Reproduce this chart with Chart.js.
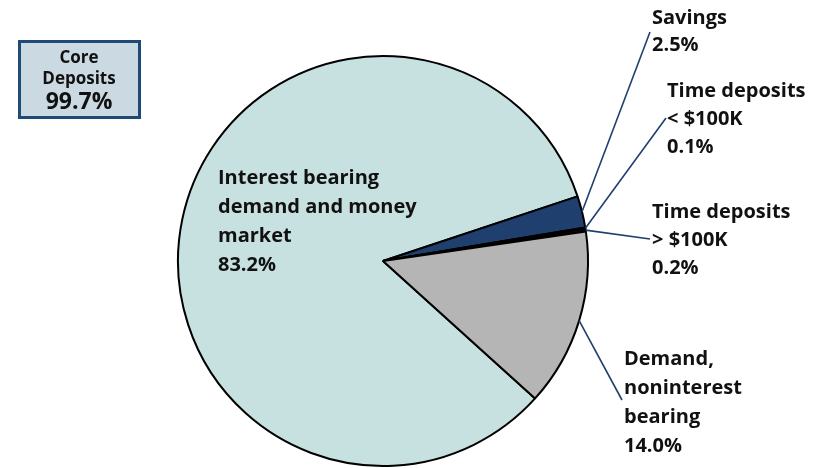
<!DOCTYPE html>
<html>
<head>
<meta charset="utf-8">
<script src="https://cdn.jsdelivr.net/npm/chart.js@4/dist/chart.umd.min.js"></script>
<style>
  html, body { margin: 0; padding: 0; background: #fff; }
  #wrap { width: 819px; height: 468px; position: relative; }
</style>
</head>
<body>
<div id="wrap"><canvas id="depositChart" width="819" height="468"></canvas></div>
<script>
const categories = [
  'Interest bearing demand and money market',
  'Savings',
  'Time deposits < $100K',
  'Time deposits > $100K',
  'Demand, noninterest bearing'
];
const shares = [83.2, 2.5, 0.1, 0.2, 14.0];
const sliceColors = ['#c7e0e0', '#1f3f6e', '#1a2a44', '#111111', '#b5b5b5'];
const labelLines = [
  ['Interest bearing', 'demand and money', 'market'],
  ['Savings'],
  ['Time deposits', '< $100K'],
  ['Time deposits', '> $100K'],
  ['Demand,', 'noninterest', 'bearing']
];
const coreTitle = ['Core', 'Deposits'];
const coreShare = 99.7;

// where each label block sits, and where its leader line ends (null = no line)
const labelSpots = [
  { x: 218, y: 178, lh: 29, line: null },
  { x: 652, y: 18, lh: 27, line: { x: 650, y: 32 } },
  { x: 667, y: 91, lh: 28, line: { x: 666, y: 118 } },
  { x: 652, y: 212, lh: 28, line: { x: 650, y: 239 } },
  { x: 624, y: 359, lh: 29, line: { x: 622, y: 400 } }
];

const FONT = '"Open Sans", Lato, sans-serif';

const calloutPlugin = {
  id: 'callouts',
  afterDatasetsDraw(chart) {
    const ctx = chart.ctx;
    const arcs = chart.getDatasetMeta(0).data;
    ctx.save();

    // leader lines from the middle of each slice's rim
    ctx.strokeStyle = '#1f3f6e';
    ctx.lineWidth = 1.6;
    arcs.forEach((arc, i) => {
      const spot = labelSpots[i];
      if (!spot.line) return;
      const mid = (arc.startAngle + arc.endAngle) / 2;
      const sx = arc.x + Math.cos(mid) * arc.outerRadius;
      const sy = arc.y + Math.sin(mid) * arc.outerRadius;
      ctx.beginPath();
      ctx.moveTo(sx, sy);
      ctx.lineTo(spot.line.x, spot.line.y);
      ctx.stroke();
    });

    // label text: name lines then the share
    ctx.fillStyle = '#111';
    ctx.font = 'bold 20px ' + FONT;
    ctx.textAlign = 'left';
    ctx.textBaseline = 'middle';
    labelSpots.forEach((spot, i) => {
      const lines = labelLines[i].concat([shares[i].toFixed(1) + '%']);
      lines.forEach((t, k) => ctx.fillText(t, spot.x, spot.y + k * spot.lh));
    });

    // core deposits box
    ctx.fillStyle = '#cbdae2';
    ctx.fillRect(19, 41, 120, 76);
    ctx.strokeStyle = '#1f4a75';
    ctx.lineWidth = 3;
    ctx.strokeRect(19.5, 41.5, 120, 76);
    ctx.fillStyle = '#111';
    ctx.textAlign = 'center';
    ctx.font = 'bold 17px ' + FONT;
    ctx.fillText(coreTitle[0], 79, 58);
    ctx.fillText(coreTitle[1], 79, 79);
    ctx.font = 'bold 23px ' + FONT;
    ctx.fillText(coreShare.toFixed(1) + '%', 79, 102);
    ctx.restore();
  }
};

new Chart(document.getElementById('depositChart'), {
  type: 'pie',
  data: {
    labels: categories,
    datasets: [{
      data: shares,
      backgroundColor: sliceColors,
      borderColor: '#000',
      borderWidth: 2
    }]
  },
  options: {
    responsive: false,
    animation: false,
    rotation: 132.1,
    layout: { padding: { top: 55, bottom: 1, left: 177, right: 230 } },
    plugins: {
      legend: { display: false },
      tooltip: { enabled: false }
    }
  },
  plugins: [calloutPlugin]
});
</script>
</body>
</html>
